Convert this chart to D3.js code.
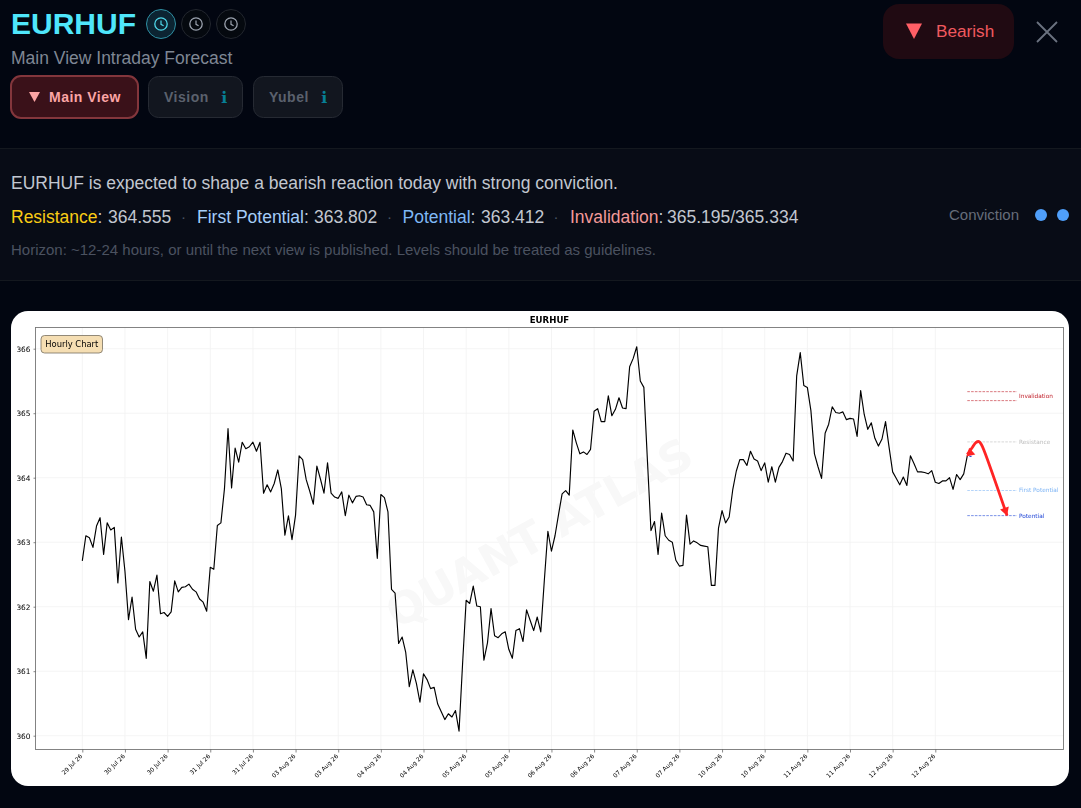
<!DOCTYPE html>
<html><head><meta charset="utf-8">
<script src="https://cdn.jsdelivr.net/npm/d3@7/dist/d3.min.js"></script>
<style>
html,body{margin:0;padding:0;background:#020611;overflow:hidden}
svg{display:block;position:absolute;left:0;top:0}
text{font-family:"Liberation Sans",Arial,sans-serif}
.m text,.m{font-family:"DejaVu Sans",sans-serif}
</style></head><body><svg id="s" width="1081" height="808"></svg>
<script>
const closes=[362.71,363.10,363.07,362.92,363.25,363.38,362.81,363.30,363.19,363.23,362.37,363.08,362.55,361.80,362.15,361.65,361.53,361.61,361.20,362.39,
362.24,362.49,361.89,361.91,361.85,361.92,362.40,362.23,362.30,362.31,362.35,362.27,362.23,362.12,362.07,361.93,362.61,362.58,363.26,363.30,
363.83,364.76,363.84,364.46,364.24,364.55,364.45,364.48,364.55,364.41,364.55,363.76,363.89,363.78,363.91,364.12,363.83,363.11,363.41,363.04,
363.42,364.34,364.28,363.97,363.79,363.59,364.18,363.98,363.76,364.23,363.76,363.70,363.68,363.78,363.41,363.73,363.61,363.71,363.72,363.70,
363.58,363.57,363.47,362.75,363.74,363.69,363.47,362.27,362.21,361.43,361.53,361.29,360.76,361.02,360.81,360.52,360.96,360.87,360.73,360.75,
360.49,360.37,360.25,360.34,360.29,360.39,360.07,361.12,362.10,362.05,362.32,362.01,362.00,361.17,361.44,361.97,361.55,361.52,361.58,361.61,
361.34,361.20,361.63,361.66,361.46,361.95,361.79,361.63,361.84,361.61,362.41,363.17,362.86,363.10,363.43,363.75,363.80,363.73,364.74,364.54,
364.37,364.40,364.36,364.44,365.03,365.07,364.87,364.87,365.27,364.96,365.06,365.24,365.08,365.07,365.72,365.85,366.03,365.50,365.40,364.27,
363.18,363.32,362.81,363.45,363.10,363.03,363.00,362.72,362.63,362.64,363.42,362.97,363.02,362.99,362.95,362.94,362.93,362.33,362.33,363.22,
363.49,363.30,363.39,363.81,364.10,364.28,364.28,364.19,364.41,364.29,364.26,364.11,364.23,363.93,364.17,363.93,364.16,364.25,364.38,364.36,
364.26,365.58,365.94,365.43,365.40,365.04,364.37,364.17,363.99,364.69,364.83,365.10,365.01,365.00,365.02,364.90,364.92,364.91,364.64,365.35,
364.98,364.75,364.85,364.61,364.49,364.60,364.87,364.47,364.09,363.99,363.89,364.01,363.88,364.34,364.22,364.09,364.09,364.08,364.06,364.11,
363.93,363.91,363.95,363.95,364.00,363.82,364.05,363.97,364.06,364.34];
const xTickLabels=["29 Jul 26","30 Jul 26","30 Jul 26","31 Jul 26","31 Jul 26","03 Aug 26","03 Aug 26","04 Aug 26","04 Aug 26","05 Aug 26","05 Aug 26","06 Aug 26","06 Aug 26","07 Aug 26","07 Aug 26","10 Aug 26","10 Aug 26","11 Aug 26","11 Aug 26","12 Aug 26","12 Aug 26"];
const yTicks=[360,361,362,363,364,365,366];
const levelNames=["Invalidation","Resistance","First Potential","Potential"];
const levelValues=[[365.334,365.195],[364.555],[363.802],[363.412]];
const levelColors=["#c01f2a","#bdbdbd","#7db4f5","#1f45d6"];
const forecastX=[249,250.3,251.4,252.3,253,253.8,260.2];
const forecastY=[364.36,364.46,364.545,364.56,364.51,364.41,363.412];

const svg=d3.select("#s");
svg.append("rect").attr("x",0).attr("y",149).attr("width",1081).attr("height",132).attr("fill","#080c16");
svg.append("line").attr("x1",0).attr("x2",1081).attr("y1",148.5).attr("y2",148.5).attr("stroke","#14181f");
svg.append("line").attr("x1",0).attr("x2",1081).attr("y1",280.5).attr("y2",280.5).attr("stroke","#14181f");
function T(x,y,str,size,fill,weight,anchor){return svg.append("text").attr("x",x).attr("y",y).attr("font-size",size).attr("fill",fill).attr("font-weight",weight||400).attr("text-anchor",anchor||"start").text(str);}
T(11,34,"EURHUF",30,"#4fe6fb",700);
T(11,64,"Main View Intraday Forecast",17.5,"#7f8794");
[[161,true],[196,false],[231,false]].forEach(([cx,on])=>{
  const c=on?"#4fd8ea":"#9ca3af";
  svg.append("circle").attr("cx",cx).attr("cy",24).attr("r",14.5).attr("fill",on?"#0c2432":"#05090f").attr("stroke",on?"#2f8fa3":"#22262e");
  svg.append("circle").attr("cx",cx).attr("cy",24).attr("r",6.2).attr("fill","none").attr("stroke",c).attr("stroke-width",1.3);
  svg.append("path").attr("d",`M${cx} 20.5V24.4L${cx+2.6} 25.8`).attr("fill","none").attr("stroke",c).attr("stroke-width",1.2);
});
function tab(x,y,w,h,fill,stroke,sw){svg.append("rect").attr("x",x).attr("y",y).attr("width",w).attr("height",h).attr("rx",10).attr("fill",fill).attr("stroke",stroke).attr("stroke-width",sw);}
tab(11,76,127,42,"#3a1119","#83363c",2);
svg.append("path").attr("d","M29 92H40L34.5 102Z").attr("fill","#fca5a5");
T(49,102,"Main View",14,"#fca5a5",700).attr("letter-spacing",.5);
tab(148.5,76.5,94,41,"#12161f","#262a33",1);
T(164,102,"Vision",14,"#5b616d",700).attr("letter-spacing",.5);
T(224,103,"ℹ",16,"#087e96",700,"middle").style("font-family","DejaVu Sans");
tab(253.5,76.5,89,41,"#12161f","#262a33",1);
T(269,102,"Yubel",14,"#5b616d",700).attr("letter-spacing",.5);
T(324,103,"ℹ",16,"#087e96",700,"middle").style("font-family","DejaVu Sans");
svg.append("rect").attr("x",883).attr("y",4).attr("width",131).attr("height",55).attr("rx",16).attr("fill","#200a12");
svg.append("path").attr("d","M906 23.5H922L914 39Z").attr("fill","#ff5f66");
T(936,37,"Bearish",17.2,"#f0595f");
svg.append("path").attr("d","M1037 22L1057 42M1057 22L1037 42").attr("stroke","#6b7280").attr("stroke-width",1.8);
T(11,189,"EURHUF is expected to shape a bearish reaction today with strong conviction.",17.5,"#c2c7d0");
[[11,"Resistance","#facc15"],[197,"First Potential","#a5cdf8"],[402.5,"Potential","#7fb8f5"],[570,"Invalidation","#f39a9a"]].forEach(d=>{
  const t=T(d[0],223,"",17.5,d[2]); t.append("tspan").text(d[1]); t.append("tspan").attr("fill","#c2c7d0").text(": ");
});
[[108,"364.555"],[314,"363.802"],[481,"363.412"],[667,"365.195/365.334"]].forEach(d=>T(d[0],223,d[1],17.5,"#c2c7d0"));
[183.5,389.5,556].forEach(x=>T(x,222,"·",15,"#4b5563","400","middle"));
T(11,255,"Horizon: ~12-24 hours, or until the next view is published. Levels should be treated as guidelines.",15,"#4b5260");
T(949,220,"Conviction",15,"#666d7a");
[1041,1063].forEach(cx=>svg.append("circle").attr("cx",cx).attr("cy",215).attr("r",6).attr("fill","#4f9ffa"));
svg.append("rect").attr("x",11).attr("y",311).attr("width",1058).attr("height",475).attr("rx",17).attr("fill","#fff");
const g=svg.append("g").attr("class","m").style("filter","blur(0.3px)");
const L=35.5,R=1063.5,Tp=327.5,B=749.5;
const x=d3.scaleLinear().domain([0,240]).range([82.3,935.3]);
const y=d3.scaleLinear().domain([360,366]).range([735.7,348.7]);
const xt=xTickLabels.map((_,i)=>i*12);
g.append("g").selectAll("line").data(xt).join("line").attr("x1",d=>x(d)).attr("x2",d=>x(d)).attr("y1",Tp).attr("y2",B).attr("stroke","#f1f1f1").attr("stroke-width",.8);
g.append("g").selectAll("line").data(yTicks).join("line").attr("y1",d=>y(d)).attr("y2",d=>y(d)).attr("x1",L).attr("x2",R).attr("stroke","#f1f1f1").attr("stroke-width",.8);
g.append("text").attr("transform","translate(541,536) rotate(-29)").attr("text-anchor","middle").attr("dominant-baseline","middle").attr("font-size",44).attr("font-weight",700).attr("fill","#f8f8f8").text("QUANT ATLAS");
g.append("path").datum(closes).attr("fill","none").attr("stroke","#000").attr("stroke-width",1.15).attr("stroke-linejoin","round")
 .attr("d",d3.line().x((d,i)=>x(i)).y(d=>y(d)));
levelNames.forEach((n,i)=>{
  levelValues[i].forEach(v=>g.append("line").attr("x1",x(249)).attr("x2",x(263)).attr("y1",y(v)).attr("y2",y(v)).attr("stroke",levelColors[i]).attr("stroke-width",.8).attr("stroke-dasharray","2.6 1.2").attr("opacity",.75));
  g.append("text").attr("x",1019).attr("y",y(d3.mean(levelValues[i]))+2).attr("font-size",5.8).attr("fill",levelColors[i]).text(n);
});
g.append("path").datum(forecastX.map((d,i)=>[d,forecastY[i]])).attr("fill","none").attr("stroke","#ff2424").attr("stroke-width",2.8).attr("stroke-linejoin","round")
 .attr("d",d3.line().curve(d3.curveCatmullRom.alpha(.5)).x(d=>x(d[0])).y(d=>y(d[1])));
function head(px,py,dx,dy){const l=Math.hypot(dx,dy),ux=dx/l,uy=dy/l,s=8,w=4.6;
  g.append("path").attr("d",`M${px} ${py}L${px-ux*s-uy*w} ${py-uy*s+ux*w}L${px-ux*s+uy*w} ${py-uy*s-ux*w}Z`).attr("fill","#ff2424");}
head(x(forecastX[0])-1,y(forecastY[0])+2,-1,.9);
head(x(forecastX[6]),y(forecastY[6]),.35,1);
g.append("line").attr("x1",x(249.6)).attr("x2",x(250.2)).attr("y1",y(364.33)).attr("y2",y(364.33)).attr("stroke","#1a3ce0").attr("stroke-width",1);
g.append("rect").attr("x",L).attr("y",Tp).attr("width",R-L).attr("height",B-Tp).attr("fill","none").attr("stroke","#777").attr("stroke-width",.9);
const ax=g.append("g").attr("transform",`translate(0,${B})`).call(d3.axisBottom(x).tickValues(xt).tickSize(3).tickFormat((d,i)=>xTickLabels[i]));
ax.select(".domain").remove();
ax.selectAll("line").attr("stroke","#555").attr("stroke-width",.7);
ax.selectAll("text").attr("font-size",6).attr("font-family","DejaVu Sans").attr("fill","#000").attr("text-anchor","end").attr("dy",0).attr("y",0)
 .attr("transform","translate(0,7) rotate(-45)");
const ay=g.append("g").attr("transform",`translate(${L},0)`).call(d3.axisLeft(y).tickValues(yTicks).tickSize(2).tickFormat(d3.format("d")));
ay.select(".domain").remove();
ay.selectAll("line").attr("stroke","#555").attr("stroke-width",.7);
ay.selectAll("text").attr("font-size",7.4).attr("font-family","DejaVu Sans").attr("fill","#000").attr("x",-5);
g.append("text").attr("x",549.5).attr("y",323).attr("text-anchor","middle").attr("font-size",8.6).attr("font-weight",700).attr("fill","#000").text("EURHUF");
g.append("rect").attr("x",41).attr("y",335.5).attr("width",61.5).attr("height",17.5).attr("rx",3.5).attr("fill","#f5deb3").attr("stroke","#77705f").attr("stroke-width",.8);
g.append("text").attr("x",71.8).attr("y",347).attr("text-anchor","middle").attr("font-size",8.4).attr("fill","#000").text("Hourly Chart");
</script></body></html>
